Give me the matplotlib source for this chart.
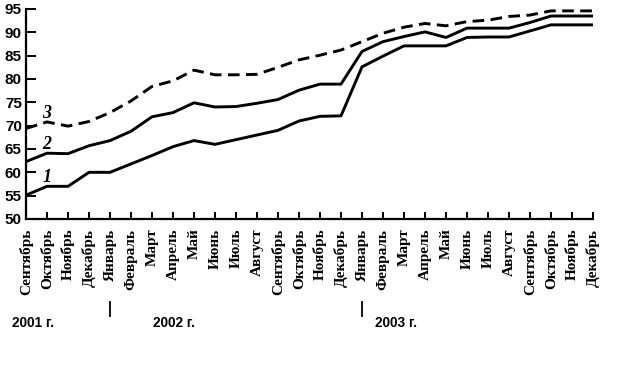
import numpy as np
import matplotlib
matplotlib.use("Agg")
import matplotlib.pyplot as plt
import matplotlib.transforms as mtransforms

# Данные (сентябрь 2001 - декабрь 2003)
months = ["Сентябрь", "Октябрь", "Ноябрь", "Декабрь",
          "Январь", "Февраль", "Март", "Апрель", "Май", "Июнь", "Июль",
          "Август", "Сентябрь", "Октябрь", "Ноябрь", "Декабрь",
          "Январь", "Февраль", "Март", "Апрель", "Май", "Июнь", "Июль",
          "Август", "Сентябрь", "Октябрь", "Ноябрь", "Декабрь"]

line1 = [55.1, 57, 57, 60, 60, 61.8, 63.6, 65.5, 66.8, 66, 67, 68, 69, 71,
         72, 72.1, 82.6, 84.9, 87.1, 87.1, 87.1, 88.9, 89, 89, 90.3, 91.6,
         91.6, 91.6]
line2 = [62.3, 64.1, 64, 65.7, 66.8, 68.8, 71.9, 72.8, 74.9, 74, 74.1, 74.8,
         75.6, 77.6, 78.9, 78.9, 85.9, 88, 89.1, 90.1, 88.9, 90.9, 90.9, 90.9,
         92.1, 93.5, 93.5, 93.5]
line3 = [69.4, 70.8, 69.9, 70.9, 72.8, 75.3, 78.4, 79.6, 81.9, 80.9, 80.9,
         81, 82.5, 84.1, 85.1, 86.2, 88, 89.8, 91.1, 91.9, 91.4, 92.3, 92.6,
         93.4, 93.7, 94.6, 94.6, 94.6]

years = ["2001 г.", "2002 г.", "2003 г."]
year_starts = [4, 16]  # индексы января

x = np.arange(len(months))

fig = plt.figure(figsize=(6.44, 3.73), dpi=100)
ax = fig.add_axes([26 / 644, 1 - 219 / 373, (593 - 26) / 644, 210 / 373])

ax.plot(x, line1, color="black", lw=2.1)
ax.plot(x, line2, color="black", lw=2.1)
ax.plot(x, line3, color="black", lw=2.1, dashes=(4, 2.2))

# номера кривых
for txt, yy in zip(["1", "2", "3"], [58.8, 65.9, 72.7]):
    ax.text(1.0, yy, txt, fontsize=13, style="italic", fontweight="bold",
            family="Liberation Serif", ha="center", va="center")

ax.set_xlim(0, 27)
ax.set_ylim(50, 95)
ax.set_yticks(np.arange(50, 96, 5))
ax.set_xticks(x)
ax.set_xticklabels(months, rotation=90, family="Liberation Serif",
                   fontweight="bold", fontsize=11, va="top", ha="center")
for lab in ax.get_yticklabels():
    lab.set_family("Liberation Sans")
    lab.set_fontweight("bold")
    lab.set_fontsize(11)

ax.spines["top"].set_visible(False)
ax.spines["right"].set_visible(False)
ax.spines["left"].set_linewidth(1.6)
ax.spines["bottom"].set_linewidth(1.6)
ax.tick_params(axis="y", direction="in", length=7, width=1.4, pad=3)
ax.tick_params(axis="x", direction="in", length=5, width=1.4, pad=7)

# разделители годов и подписи
trans = mtransforms.blended_transform_factory(ax.transData, fig.transFigure)
for xs in year_starts:
    ax.plot([xs, xs], [1 - 302 / 373, 1 - 316 / 373], color="black", lw=1.3,
            transform=trans, clip_on=False)
for txt, px in zip(years, [12, 153, 375]):
    fig.text(px / 644, 1 - 323 / 373, txt, family="Liberation Sans",
             fontweight="bold", fontsize=9.8, ha="left", va="center")

fig.savefig("out.png", dpi=100)
